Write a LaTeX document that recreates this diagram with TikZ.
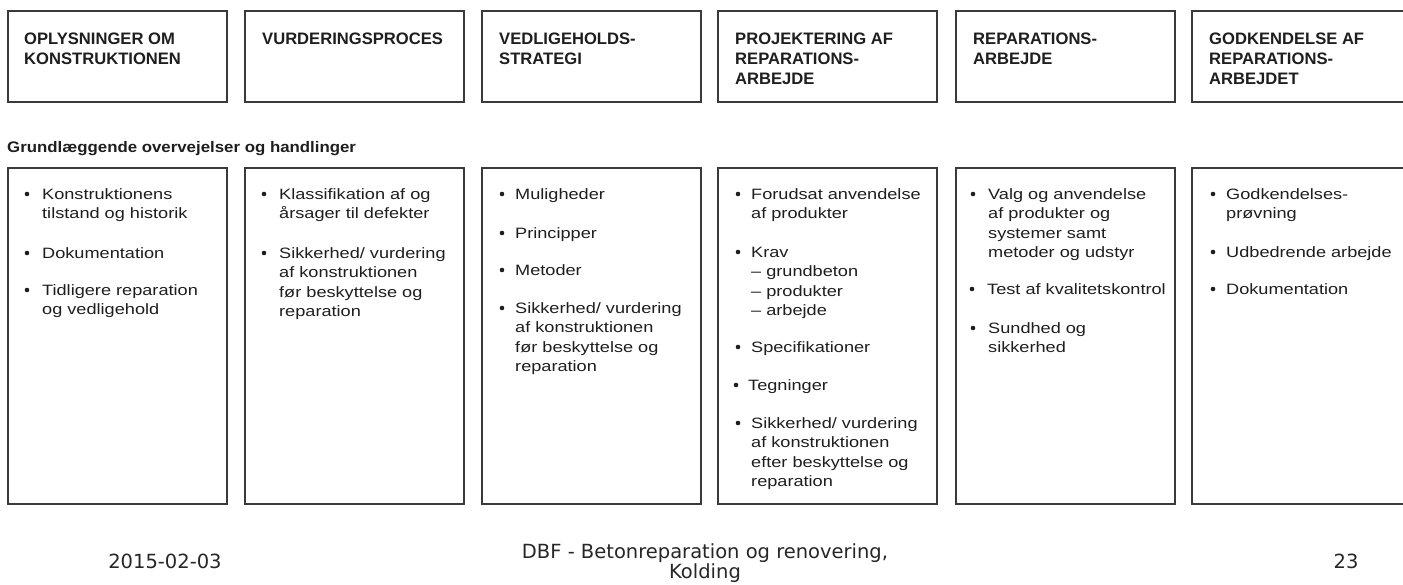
\documentclass[tikz,border=0pt]{standalone}
\usepackage{fontspec}
\setmainfont{Liberation Sans}
\newfontfamily\bodyfont[FakeStretch=1.21]{Liberation Sans}
\newfontfamily\subfont[FakeStretch=1.1]{Liberation Sans}
\newfontfamily\footfont{DejaVu Sans}
\definecolor{boxline}{HTML}{3A3A3A}
\definecolor{txt}{HTML}{1E1E1E}
\newcommand\ML[1]{\begin{tabular}[t]{@{}l@{}}#1\end{tabular}}
\newcommand\MC[1]{\begin{tabular}[t]{@{}c@{}}#1\end{tabular}}
\tikzset{
  box/.style={draw=boxline, line width=1.6pt, fill=white, inner sep=0pt, outer sep=0pt, anchor=north west},
  topbox/.style={box, minimum width=219pt, minimum height=91pt},
  lowbox/.style={box, minimum width=219pt, minimum height=336pt},
  hd/.style={anchor=base west, inner sep=0pt, text=txt, font=\fontsize{16.6}{20}\selectfont\bfseries},
  sub/.style={anchor=base west, inner sep=0pt, text=txt, font=\subfont\fontsize{15.3}{19}\selectfont\bfseries},
  bt/.style={anchor=base west, inner sep=0pt, text=txt, font=\bodyfont\fontsize{15}{19.5}\selectfont},
  bul/.style={circle, fill=txt, inner sep=0pt, minimum size=4.6pt, yshift=5pt},
  ft/.style={anchor=base, inner sep=0pt, text=black!85, font=\footfont\fontsize{19.5}{20.5}\selectfont}
}
% name, bullet x, text x, baseline y, text
\newcommand\entry[5]{%
  \node[bul] (#1b) at (#2,#4) {};
  \node[bt] (#1) at (#3,#4) {\ML{#5}};}
\begin{document}
\begin{tikzpicture}[x=1pt,y=-1pt]
\useasboundingbox (0,0) rectangle (1403,584);
\clip (0,0) rectangle (1403,584);
% top boxes
\node[topbox] (t1) at (8,11) {};
\node[topbox] (t2) at (245,11) {};
\node[topbox] (t3) at (482,11) {};
\node[topbox] (t4) at (718,11) {};
\node[topbox] (t5) at (956,11) {};
\node[topbox, minimum width=260pt] (t6) at (1192,11) {};
\node[hd] (h1) at (24,44) {\ML{OPLYSNINGER OM\\KONSTRUKTIONEN}};
\node[hd] (h2) at (262,44) {\ML{VURDERINGSPROCES}};
\node[hd] (h3) at (499,44) {\ML{VEDLIGEHOLDS-\\STRATEGI}};
\node[hd] (h4) at (735,44) {\ML{PROJEKTERING AF\\REPARATIONS-\\ARBEJDE}};
\node[hd] (h5) at (973,44) {\ML{REPARATIONS-\\ARBEJDE}};
\node[hd] (h6) at (1209,44) {\ML{GODKENDELSE AF\\REPARATIONS-\\ARBEJDET}};
% sub heading
\node[sub] (sh) at (7,152) {Grundlæggende overvejelser og handlinger};
% lower boxes
\node[lowbox] (b1) at (8,168) {};
\node[lowbox] (b2) at (245,168) {};
\node[lowbox] (b3) at (482,168) {};
\node[lowbox] (b4) at (718,168) {};
\node[lowbox] (b5) at (956,168) {};
\node[lowbox, minimum width=260pt] (b6) at (1192,168) {};
% box 1
\entry{a1}{27}{42}{199}{Konstruktionens\\tilstand og historik}
\entry{a2}{27}{42}{258}{Dokumentation}
\entry{a3}{27}{42}{295}{Tidligere reparation\\og vedligehold}
% box 2
\entry{c1}{264}{279}{199}{Klassifikation af og\\årsager til defekter}
\entry{c2}{264}{279}{258}{Sikkerhed/ vurdering\\af konstruktionen\\før beskyttelse og\\reparation}
% box 3
\entry{d1}{502}{515}{199}{Muligheder}
\entry{d2}{502}{515}{238}{Principper}
\entry{d3}{502}{515}{275}{Metoder}
\entry{d4}{502}{515}{313}{Sikkerhed/ vurdering\\af konstruktionen\\før beskyttelse og\\reparation}
% box 4
\entry{e1}{738}{751}{199}{Forudsat anvendelse\\af produkter}
\entry{e2}{738}{751}{257}{Krav\\– grundbeton\\– produkter\\– arbejde}
\entry{e3}{738}{751}{352}{Specifikationer}
\entry{e4}{736}{748}{390}{Tegninger}
\entry{e5}{738}{751}{428}{Sikkerhed/ vurdering\\af konstruktionen\\efter beskyttelse og\\reparation}
% box 5
\entry{f1}{973}{988}{199}{Valg og anvendelse\\af produkter og\\systemer samt\\metoder og udstyr}
\entry{f2}{972}{987}{294}{Test af kvalitetskontrol}
\entry{f3}{973}{988}{333}{Sundhed og\\sikkerhed}
% box 6
\entry{g1}{1213}{1226}{199}{Godkendelses-\\prøvning}
\entry{g2}{1213}{1226}{257}{Udbedrende arbejde}
\entry{g3}{1213}{1226}{294}{Dokumentation}
% footer
\node[ft] (date) at (165,568) {2015-02-03};
\node[ft] (title) at (705,558) {\MC{DBF - Betonreparation og renovering,\\Kolding}};
\node[ft] (page) at (1346,568) {23};
\end{tikzpicture}
\end{document}
